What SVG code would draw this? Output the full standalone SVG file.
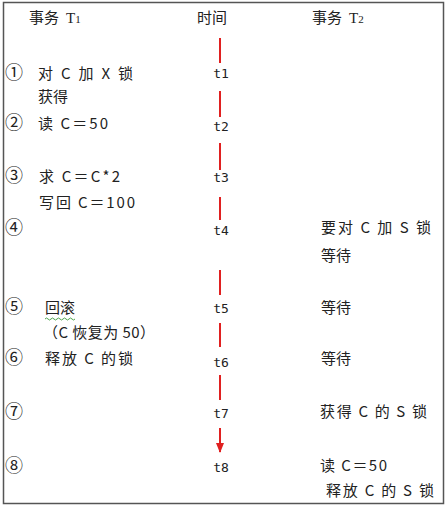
<svg xmlns="http://www.w3.org/2000/svg" width="448" height="509" viewBox="0 0 448 509">
<defs>
<marker id="ah" markerWidth="10" markerHeight="10" refX="9" refY="4" orient="auto" markerUnits="userSpaceOnUse" viewBox="0 0 10 8"><path d="M0,0 L10,4 L0,8 Z" fill="#e02020"/></marker>
<style>
.t{font-family:"Noto Sans CJK SC","Liberation Sans",sans-serif;font-size:15px;fill:#222}
.n{font-family:"Noto Sans CJK SC","DejaVu Sans",sans-serif;font-size:18px;fill:#222}
.tm{font-family:"DejaVu Sans Mono","Liberation Mono",monospace;font-size:13px;fill:#222;text-anchor:middle}
.sr{font-family:"Liberation Serif",serif;font-size:15px;fill:#222}
.ln{stroke:#e02020;stroke-width:2;fill:none}
</style>
</defs>
<rect x="3.5" y="2.5" width="440" height="501" fill="#fff" stroke="#555" stroke-width="1.5"/>
<g id="header">
<text class="t" x="29" y="23">事务</text>
<text class="sr" x="66" y="23">T<tspan font-size="11">1</tspan></text>
<text class="t" x="197" y="23">时间</text>
<text class="t" x="312" y="23">事务</text>
<text class="sr" x="349" y="23">T<tspan font-size="11">2</tspan></text>
</g>
<g id="row1">
<text class="n" x="5" y="79">①</text>
<text class="t" x="38" y="79" xml:space="preserve" textLength="95" lengthAdjust="spacing">对 C 加 X 锁</text>
<text class="t" x="38" y="102">获得</text>
<text class="tm" x="221" y="78">t1</text>
</g>
<g id="row2">
<text class="n" x="5" y="129">②</text>
<text class="t" x="38" y="129" textLength="70" lengthAdjust="spacing">读 C＝50</text>
<text class="tm" x="221" y="131">t2</text>
</g>
<g id="row3">
<text class="n" x="5" y="182">③</text>
<text class="t" x="39" y="182" textLength="81" lengthAdjust="spacing">求 C＝C*2</text>
<text class="t" x="39" y="208" textLength="96" lengthAdjust="spacing">写回 C＝100</text>
<text class="tm" x="221" y="182">t3</text>
</g>
<g id="row4">
<text class="n" x="5" y="234">④</text>
<text class="tm" x="221" y="235">t4</text>
<text class="t" x="321" y="233" xml:space="preserve" textLength="110" lengthAdjust="spacing">要对 C 加 S 锁</text>
<text class="t" x="321" y="261">等待</text>
</g>
<g id="row5">
<text class="n" x="5" y="313">⑤</text>
<text class="t" x="45" y="313">回滚</text>
<path d="M45,319 q1.5,-2 3,0 t3,0 t3,0 t3,0 t3,0 t3,0 t3,0 t3,0 t3,0 t3,0" fill="none" stroke="#3a9a3a" stroke-width="0.9"/>
<text class="t" x="43" y="338" textLength="112" lengthAdjust="spacing">（C 恢复为 50）</text>
<text class="tm" x="221" y="313">t5</text>
<text class="t" x="321" y="313">等待</text>
</g>
<g id="row6">
<text class="n" x="5" y="364">⑥</text>
<text class="t" x="45" y="364" xml:space="preserve" textLength="88" lengthAdjust="spacing">释放 C 的锁</text>
<text class="tm" x="221" y="367">t6</text>
<text class="t" x="321" y="364">等待</text>
</g>
<g id="row7">
<text class="n" x="5" y="418">⑦</text>
<text class="tm" x="221" y="418">t7</text>
<text class="t" x="320" y="417" xml:space="preserve" textLength="107" lengthAdjust="spacing">获得 C 的 S 锁</text>
</g>
<g id="row8">
<text class="n" x="5" y="472">⑧</text>
<text class="tm" x="221" y="472">t8</text>
<text class="t" x="320" y="471" textLength="67" lengthAdjust="spacing">读 C＝50</text>
<text class="t" x="326" y="496" xml:space="preserve" textLength="108" lengthAdjust="spacing">释放 C 的 S 锁</text>
</g>
<g id="connectors">
<line class="ln" x1="220" y1="38" x2="220" y2="63"/>
<line class="ln" x1="220" y1="91" x2="220" y2="117"/>
<line class="ln" x1="220" y1="143" x2="220" y2="170"/>
<line class="ln" x1="220" y1="197" x2="220" y2="220"/>
<line class="ln" x1="220" y1="270" x2="220" y2="295"/>
<line class="ln" x1="220" y1="323" x2="220" y2="347"/>
<line class="ln" x1="220" y1="375" x2="220" y2="400"/>
<line class="ln" x1="220" y1="428" x2="220" y2="452" marker-end="url(#ah)"/>
</g>
</svg>
